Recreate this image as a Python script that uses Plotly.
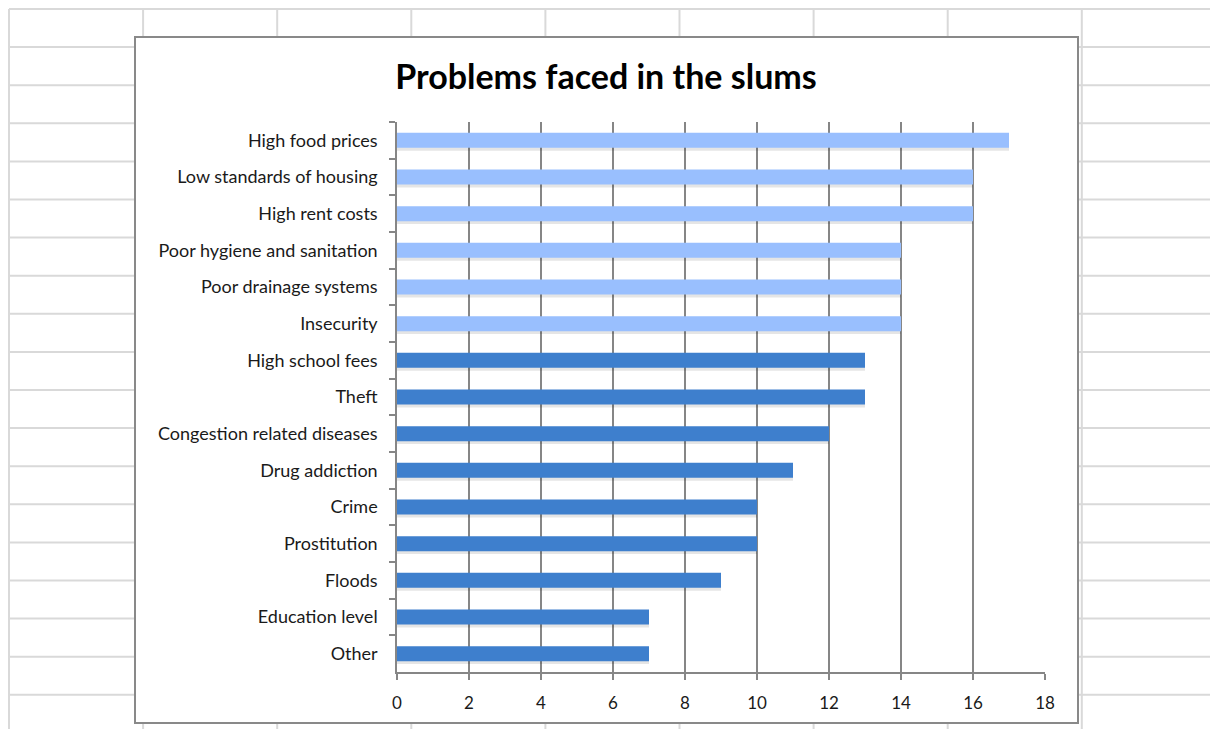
import plotly.graph_objects as go

# ---- data ----
categories = [
    "High food prices", "Low standards of housing", "High rent costs",
    "Poor hygiene and sanitation", "Poor drainage systems", "Insecurity",
    "High school fees", "Theft", "Congestion related diseases",
    "Drug addiction", "Crime", "Prostitution", "Floods",
    "Education level", "Other",
]
values = [17, 16, 16, 14, 14, 14, 13, 13, 12, 11, 10, 10, 9, 7, 7]
highlighted = [True, True, True, True, True, True,
               False, False, False, False, False, False, False, False, False]
x_ticks = [0, 2, 4, 6, 8, 10, 12, 14, 16, 18]

# ---- styling ----
W, H = 1210, 729
PL, PR, PT, PB = 397, 1045, 122, 672  # plot area in pixels
LIGHT = "#99BFFE"
DARK = "#3E7FCD"
AXIS = "#868686"
FONT = "Lato"

colors = [LIGHT if h else DARK for h in highlighted]


def px(x):
    return (x - PL) / (PR - PL)


def py(y):
    return (PB - y) / (PB - PT)


shapes = []
# spreadsheet grid
grid_col = "#d9d9d9"
xv = [9 + 134.1 * i for i in range(9)]
yh = [9 + 38.1 * i for i in range(19)]
for x in xv:
    shapes.append(dict(type="line", xref="paper", yref="paper", layer="below",
                       x0=px(x), x1=px(x), y0=py(9), y1=py(H + 5),
                       line=dict(color=grid_col, width=2)))
for y in yh:
    shapes.append(dict(type="line", xref="paper", yref="paper", layer="below",
                       x0=px(9), x1=px(W + 5), y0=py(y), y1=py(y),
                       line=dict(color=grid_col, width=2)))
# chart area
shapes.append(dict(type="rect", xref="paper", yref="paper", layer="below",
                   x0=px(135), x1=px(1078), y0=py(723), y1=py(37),
                   fillcolor="white", line=dict(color="#898989", width=2)))

bar_w = 0.41
fig = go.Figure()
# soft shadow
fig.add_trace(go.Bar(
    x=values, y=categories, orientation="h",
    width=bar_w, offset=-bar_w / 2 + 0.08,
    marker=dict(color="rgba(0,0,0,0.10)", line=dict(width=0)),
    hoverinfo="skip", showlegend=False,
))
fig.add_trace(go.Bar(
    x=values, y=categories, orientation="h",
    width=bar_w, offset=-bar_w / 2,
    marker=dict(color=colors, line=dict(width=0)),
    showlegend=False,
))

fig.update_layout(
    width=W, height=H,
    margin=dict(l=PL, r=W - PR, t=PT, b=H - PB, pad=0),
    paper_bgcolor="white",
    plot_bgcolor="rgba(0,0,0,0)",
    barmode="overlay",
    shapes=shapes,
    title=dict(text="<b>Problems faced in the slums</b>",
               x=px(606), xref="paper", xanchor="center",
               y=1 - 77 / H, yref="container", yanchor="middle",
               font=dict(family=FONT, size=34, color="#000000")),
    font=dict(family=FONT, color="#1a1a1a"),
    xaxis=dict(range=[0, 18], tickvals=x_ticks, showgrid=True,
               gridcolor=AXIS, gridwidth=1.5, zeroline=False,
               showline=True, linecolor=AXIS, linewidth=1.5,
               ticks="outside", ticklen=6, tickcolor=AXIS, tickwidth=1.5,
               ticklabelstandoff=9,
               tickfont=dict(family=FONT, size=17, color="#1a1a1a")),
    yaxis=dict(autorange="reversed", showgrid=False, zeroline=False,
               showline=True, linecolor=AXIS, linewidth=1.5,
               ticks="outside", ticklen=6, tickcolor=AXIS, tickwidth=1.5,
               tickson="boundaries", ticklabelstandoff=14,
               tickfont=dict(family=FONT, size=18, color="#1a1a1a")),
)

fig.write_html("out.html")
